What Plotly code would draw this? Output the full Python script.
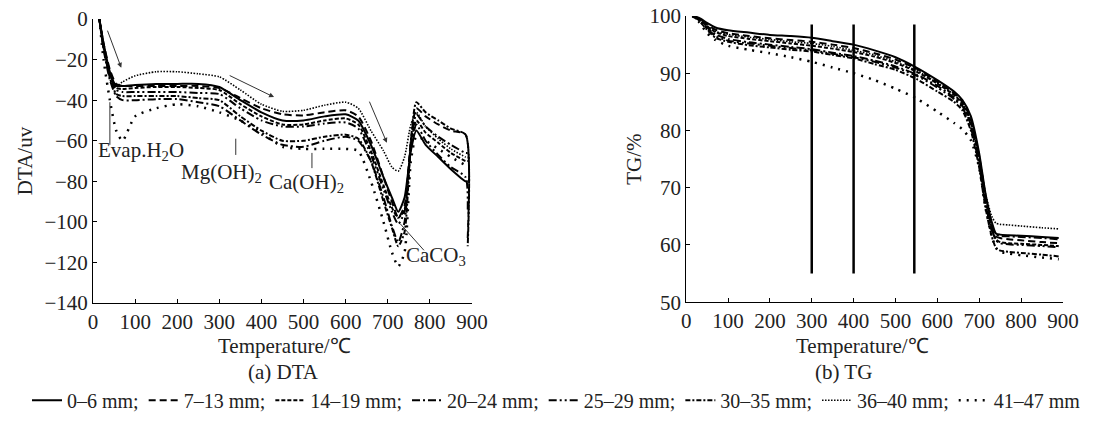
import plotly.graph_objects as go

# ---------------- data ----------------
series_names = ["0–6 mm;", "7–13 mm;", "14–19 mm;", "20–24 mm;",
                "25–29 mm;", "30–35 mm;", "36–40 mm;", "41–47 mm"]

# DTA (a)
T_dta = [15, 25, 40, 55, 70, 100, 150, 200, 250, 300, 350, 400, 450, 500, 550,
         600, 630, 660, 690, 710, 725, 740, 755, 768, 790, 820, 850, 885, 890]
dta_0_6 = [0, -12, -26, -33, -33, -32.5, -32, -32, -32, -33.5, -40, -46, -50, -50, -48,
           -47, -50, -62, -78, -88, -95, -88, -65, -55, -62, -68, -74, -80, -80]
dta_7_13 = [0, -12, -25, -32, -33, -33, -33, -33, -33, -34, -39, -44, -47, -47.5, -46,
            -45, -48, -60, -78, -90, -98, -92, -60, -44, -48, -52, -55, -57, -108]
dta_14_19 = [0, -13, -27, -34, -34.5, -34, -33.5, -33.5, -34, -35, -42, -48, -52, -52, -50,
             -49, -52, -65, -82, -93, -98, -94, -62, -50, -56, -61, -66, -70, -70]
dta_20_24 = [0, -15, -30, -38, -40, -40, -39.5, -39.5, -41, -43, -50, -57, -62, -63, -60,
             -58, -60, -70, -88, -102, -110, -100, -62, -47, -53, -58, -62, -66, -66]
dta_25_29 = [0, -14, -28, -35, -36, -36, -36, -36, -36.5, -37, -44, -50, -53, -53, -51.5,
             -51, -54, -67, -84, -95, -101, -95, -64, -52, -60, -67, -73, -78, -95]
dta_30_35 = [0, -14, -29, -37, -38, -38, -38, -38, -39, -40, -48, -55, -60, -60, -58,
             -57, -59, -70, -90, -103, -112, -105, -60, -41, -46, -50, -54, -57, -112]
dta_36_40 = [0, -13, -27, -33, -31, -28, -26, -26, -27, -28.5, -35, -42, -45.5, -45, -42.5,
             -41, -44, -55, -65, -73, -75, -68, -52, -46, -53, -59, -64, -68, -68]
dta_41_47 = [0, -20, -40, -55, -60, -48, -44, -42, -43, -46, -50, -56, -63, -64, -64,
             -64, -65, -80, -100, -115, -122, -115, -70, -58, -60, -64, -68, -72, -72]
dta_series = [dta_0_6, dta_7_13, dta_14_19, dta_20_24, dta_25_29, dta_30_35, dta_36_40, dta_41_47]

# TG (b)
T_tg = [15, 30, 50, 70, 100, 150, 200, 250, 300, 350, 400, 450, 500, 550, 600,
        640, 660, 680, 700, 715, 730, 740, 750, 770, 800, 850, 890]
tg_0_6 = [100, 99.7, 98.8, 98.0, 97.5, 97.1, 96.7, 96.5, 96.2, 95.6, 95.0, 94.0, 92.8, 91.0, 88.8,
          86.8, 85.3, 82.5, 76, 69, 64, 62.0, 61.8, 61.7, 61.6, 61.4, 61.2]
tg_7_13 = [100, 99.6, 98.5, 97.6, 97.0, 96.5, 96.1, 95.8, 95.5, 95.0, 94.4, 93.5, 92.4, 90.8, 88.5,
           86.5, 85.0, 82, 75.5, 68.5, 63.5, 61.5, 61.2, 61.0, 60.8, 60.5, 60.3]
tg_14_19 = [100, 99.5, 98.2, 97.2, 96.5, 96.0, 95.6, 95.2, 94.8, 94.3, 93.7, 92.9, 91.8, 90.3, 88.2,
            86.2, 84.7, 81.5, 75, 68, 63, 61, 60.5, 60.3, 60.2, 60.0, 59.8]
tg_20_24 = [100, 99.4, 98.0, 96.8, 96.0, 95.4, 95.0, 94.6, 94.2, 93.6, 93.0, 92.2, 91.2, 89.8, 87.8,
            85.8, 84.3, 81, 74.5, 67.5, 62.5, 61.8, 61.6, 61.5, 61.4, 61.2, 61.0]
tg_25_29 = [100, 99.3, 97.8, 96.5, 95.7, 95.2, 94.8, 94.4, 94.0, 93.4, 92.8, 92.0, 91.0, 89.6, 87.5,
            85.5, 84, 80.5, 74, 67, 62.8, 60.8, 60.3, 60.1, 60.0, 59.8, 59.6]
tg_30_35 = [100, 99.2, 97.6, 96.2, 95.5, 94.9, 94.5, 94.1, 93.8, 93.2, 92.6, 91.6, 90.6, 89.0, 86.8,
            85.0, 83.5, 80, 73.5, 66.5, 61.5, 59.5, 59.0, 58.8, 58.6, 58.3, 58.0]
tg_36_40 = [100, 99.5, 98.3, 97.3, 96.8, 96.3, 95.9, 95.5, 95.2, 94.7, 94.0, 93.2, 92.0, 90.5, 88.3,
            86.3, 84.8, 81.8, 75.5, 69, 65, 63.8, 63.6, 63.5, 63.3, 63.0, 62.8]
tg_41_47 = [100, 99.0, 97.0, 95.8, 94.8, 94.1, 93.5, 92.8, 92.0, 91.0, 90.0, 88.8, 87.3, 85.6, 83.3,
            81.3, 80.2, 78.3, 73.5, 66.5, 61.5, 59.5, 58.8, 58.5, 58.2, 57.8, 57.5]
tg_series = [tg_0_6, tg_7_13, tg_14_19, tg_20_24, tg_25_29, tg_30_35, tg_36_40, tg_41_47]

# vertical reference lines on TG
tg_marker_T = [300, 400, 545]
tg_marker_range = [55, 98.5]

# ---------------- styles ----------------
dashes = ["solid", "7px,4px", "4px,2px", "8px,3px,2px,3px",
          "8px,3px,2px,3px,2px,3px", "5px,2px,2px,2px", "1.5px,1.5px", "2px,6px"]
widths = [2, 2, 2, 2, 2, 2, 1.6, 2.5]
FONT = "Liberation Serif"
FS = 21

fig = go.Figure()
for i, name in enumerate(series_names):
    fig.add_trace(go.Scatter(x=T_dta, y=dta_series[i], mode="lines", name=name,
                             line=dict(color="black", width=widths[i], dash=dashes[i],
                                       shape="spline", smoothing=0.6),
                             xaxis="x", yaxis="y", legendgroup=name))
for i, name in enumerate(series_names):
    fig.add_trace(go.Scatter(x=T_tg, y=tg_series[i], mode="lines", name=name,
                             line=dict(color="black", width=widths[i], dash=dashes[i],
                                       shape="spline", smoothing=0.6),
                             xaxis="x2", yaxis="y2", legendgroup=name, showlegend=False))
for t in tg_marker_T:
    fig.add_trace(go.Scatter(x=[t, t], y=tg_marker_range, mode="lines",
                             line=dict(color="black", width=2.5),
                             xaxis="x2", yaxis="y2", showlegend=False, hoverinfo="skip"))

axis_common = dict(showline=True, linecolor="black", linewidth=1, ticks="inside",
                   ticklen=4, tickcolor="black", showgrid=False, zeroline=False,
                   automargin=False,
                   tickfont=dict(family=FONT, size=FS, color="#222"))
title_font = dict(family=FONT, size=FS, color="#222")

fig.update_layout(
    width=1113, height=428,
    margin=dict(l=0, r=0, t=0, b=0, autoexpand=False),
    paper_bgcolor="white", plot_bgcolor="white",
    font=dict(family=FONT, color="black"),
    xaxis=dict(domain=[0.0836, 0.424], range=[0, 900], dtick=100, anchor="y", **axis_common),
    yaxis=dict(domain=[0.292, 0.9556], range=[-140, 0], dtick=20, anchor="x",
               title=dict(text="DTA/uv", standoff=6, font=title_font), **axis_common),
    xaxis2=dict(domain=[0.6165, 0.955], range=[0, 900], dtick=100, anchor="y2", **axis_common),
    yaxis2=dict(domain=[0.294, 0.9626], range=[50, 100], dtick=10, anchor="x2",
                title=dict(text="TG/%", standoff=2, font=title_font), **axis_common),
    showlegend=True,
    legend=dict(orientation="h", x=0.5, xanchor="center", y=0.065, yanchor="middle",
                font=dict(family=FONT, size=20, color="#222"),
                itemwidth=30, tracegroupgap=0, bgcolor="rgba(0,0,0,0)"),
)

ann_font = dict(family=FONT, size=FS, color="#222")


def paper_text(text, xpx, ypx):
    return dict(text=text, x=xpx / 1113, y=1 - ypx / 428, xref="paper", yref="paper",
                xanchor="center", yanchor="middle", showarrow=False, font=ann_font)


annotations = [
    paper_text("Temperature/℃", 284, 346),
    paper_text("Temperature/℃", 862, 346),
    paper_text("(a) DTA", 283, 372),
    paper_text("(b) TG", 843, 372),
    dict(text="Evap.H<sub>2</sub>O", x=114, y=-65, xref="x", yref="y", showarrow=False, font=ann_font),
    dict(text="Mg(OH)<sub>2</sub>", x=306, y=-76, xref="x", yref="y", showarrow=False, font=ann_font),
    dict(text="Ca(OH)<sub>2</sub>", x=507, y=-81, xref="x", yref="y", showarrow=False, font=ann_font),
    dict(text="CaCO<sub>3</sub>", x=815, y=-117, xref="x", yref="y", showarrow=False, font=ann_font),
]
arrows = [((33, -5), (67, -24)), ((321, -27.5), (430, -38.5)), ((655, -40), (698, -61))]
for (x0, y0), (x1, y1) in arrows:
    annotations.append(dict(x=x1, y=y1, ax=x0, ay=y0, xref="x", yref="y", axref="x", ayref="y",
                            showarrow=True, arrowhead=2, arrowsize=1, arrowwidth=1,
                            arrowcolor="#333", text=""))
fig.update_layout(annotations=annotations)

leaders = [((40, -41), (40, -62)), ((339, -59), (339, -67)), ((520, -66), (520, -73.5)),
           ((730, -101), (786, -114))]
for (x0, y0), (x1, y1) in leaders:
    fig.add_shape(type="line", x0=x0, y0=y0, x1=x1, y1=y1, xref="x", yref="y",
                  line=dict(color="#333", width=1))

fig.write_html("out.html")
